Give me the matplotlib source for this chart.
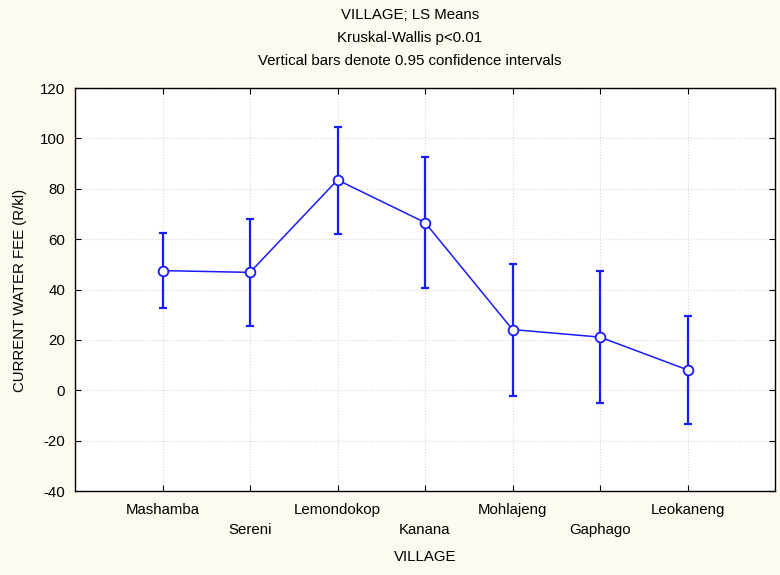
#!/usr/bin/env python3
"""LS means of current water fee per village with 0.95 confidence intervals."""

import matplotlib

matplotlib.use("Agg")
import matplotlib.pyplot as plt

villages = [
    "Mashamba",
    "Sereni",
    "Lemondokop",
    "Kanana",
    "Mohlajeng",
    "Gaphago",
    "Leokaneng",
]
means = [47.5, 46.8, 83.5, 66.6, 24.1, 21.1, 8.1]
upper = [62.3, 68.0, 104.7, 92.6, 50.0, 47.2, 29.4]
lower = [32.6, 25.5, 62.2, 40.6, -2.1, -5.0, -13.4]
y_ticks = [-40, -20, 0, 20, 40, 60, 80, 100, 120]

plt.rcParams["font.family"] = ["Liberation Sans", "DejaVu Sans"]
plt.rcParams["font.size"] = 10.8
plt.rcParams["axes.unicode_minus"] = False

blue = "#1a1aff"
x = list(range(1, len(villages) + 1))
err_low = [m - lo for m, lo in zip(means, lower)]
err_up = [up - m for m, up in zip(means, upper)]

fig = plt.figure(figsize=(7.8, 5.75), dpi=100, facecolor="#fffaef")
ax = fig.add_axes([75 / 780, 1 - 491 / 575, 700 / 780, 403 / 575])
ax.set_facecolor("white")

ax.errorbar(
    x, means, yerr=[err_low, err_up], fmt="none", ecolor=blue,
    elinewidth=1.6, capsize=3.2, capthick=1.6, zorder=3,
)
ax.plot(
    x, means, "-o", color=blue, lw=1.1, markersize=7,
    markerfacecolor="white", markeredgecolor=blue, markeredgewidth=1.3,
    zorder=4,
)

ax.set_xlim(0, 8)
ax.set_ylim(-40, 120)
ax.set_yticks(y_ticks)
ax.set_xticks(x)
ax.set_xticklabels([])
ax.grid(True, color="#d8d8d8", linestyle=":", linewidth=0.8)
ax.set_axisbelow(True)
ax.tick_params(direction="in", length=4, top=True, right=True, width=0.8)
ax.tick_params(axis="y", labelsize=10.8, pad=7)
for s in ax.spines.values():
    s.set_linewidth(1.0)

# staggered village labels (offsets in points below the axis)
for i, (xi, name) in enumerate(zip(x, villages)):
    yoff = -13.5 if i % 2 == 0 else -28
    ax.annotate(name, (xi, -40), xytext=(0, yoff), textcoords="offset points",
                ha="center", va="center")

fig.text(425 / 780, 1 - 557 / 575, "VILLAGE", ha="center", va="center")
fig.text(20 / 780, 1 - 290 / 575, "CURRENT WATER FEE (R/kl)", rotation=90,
         ha="center", va="center")

fig.text(410 / 780, 1 - 15 / 575, "VILLAGE; LS Means", ha="center", va="center")
fig.text(410 / 780, 1 - 38 / 575, "Kruskal-Wallis p<0.01", ha="center",
         va="center")
fig.text(410 / 780, 1 - 61 / 575, "Vertical bars denote 0.95 confidence intervals",
         ha="center", va="center")

fig.savefig("out.png", dpi=100, facecolor=fig.get_facecolor())
